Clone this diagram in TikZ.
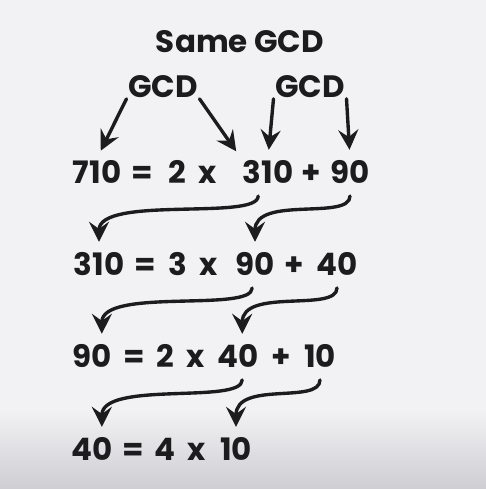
\documentclass[tikz,border=0pt]{standalone}
\usepackage{fontspec}
\setmainfont{Poppins}
\usetikzlibrary{arrows.meta}
\tikzset{>={Stealth[length=5mm,width=5mm,inset=1.8mm]}}
\definecolor{paper}{RGB}{242,242,244}
\definecolor{shadow}{RGB}{206,206,211}
\definecolor{ink}{RGB}{28,28,30}

\begin{document}
\begin{tikzpicture}[x=0.025cm,y=-0.025cm,
    txt/.style={anchor=base,inner sep=1pt,text=ink,font=\bfseries\fontsize{22}{26}\selectfont},
    arr/.style={->,draw=ink,line width=2.4pt,line cap=round}]
    %paper
    \useasboundingbox (0,0) rectangle (486,489);
    \fill[paper] (0,0) rectangle (486,489);
    \shade[top color=paper,bottom color=shadow] (0,410) rectangle (486,489);
    %labels
    \node[txt] (same) at (240,52) {Same GCD};
    \node[txt] (g1) at (163,97) {GCD};
    \node[txt] (g2) at (310,97) {GCD};
    %first line
    \node[txt] (a1) at (97,183) {710};
    \node[txt] (a2) at (142,183) {=};
    \node[txt] (a3) at (177,183) {2};
    \node[txt] (a4) at (208,183) {x};
    \node[txt] (a5) at (268,183) {310};
    \node[txt] (a6) at (311,183) {+};
    \node[txt] (a7) at (350,183) {90};
    %second line
    \node[txt] (b1) at (99,275) {310};
    \node[txt] (b2) at (145,275) {=};
    \node[txt] (b3) at (178,275) {3};
    \node[txt] (b4) at (209,275) {x};
    \node[txt] (b5) at (255,275) {90};
    \node[txt] (b6) at (294,275) {+};
    \node[txt] (b7) at (337,275) {40};
    %third line
    \node[txt] (c1) at (92,367) {90};
    \node[txt] (c2) at (134,367) {=};
    \node[txt] (c3) at (165,367) {2};
    \node[txt] (c4) at (196,367) {x};
    \node[txt] (c5) at (238,367) {40};
    \node[txt] (c6) at (281,367) {+};
    \node[txt] (c7) at (320,367) {10};
    %fourth line
    \node[txt] (d1) at (92,460) {40};
    \node[txt] (d2) at (133,460) {=};
    \node[txt] (d3) at (165,460) {4};
    \node[txt] (d4) at (197,460) {x};
    \node[txt] (d5) at (236,460) {10};
    %gcd arrows
    \draw[arr,shorten >=6pt] (g1.south west) -- (a1.north);
    \draw[arr,shorten >=6pt] (g1.south east) -- (a5.north west);
    \draw[arr,shorten >=6pt] (g2.south west) -- (a5.north);
    \draw[arr,shorten >=6pt] (g2.south east) -- (a7.north);
    %carry arrows
    \draw[arr,shorten <=8pt,shorten >=6pt] ([xshift=-7pt]a5.south) .. controls +(0,36) and +(0,-55) .. (b1.north);
    \draw[arr,shorten <=8pt,shorten >=6pt] (a7.south) .. controls +(0,36) and +(0,-55) .. (b5.north);
    \draw[arr,shorten <=8pt,shorten >=6pt] ([xshift=-2pt]b5.south) .. controls +(0,36) and +(0,-55) .. ([xshift=7pt]c1.north);
    \draw[arr,shorten <=8pt,shorten >=6pt] (b7.south) .. controls +(0,36) and +(0,-55) .. ([xshift=3pt]c5.north);
    \draw[arr,shorten <=8pt,shorten >=6pt] ([xshift=3pt]c5.south) .. controls +(0,36) and +(0,-55) .. ([xshift=7pt]d1.north);
    \draw[arr,shorten <=8pt,shorten >=6pt] (c7.south) .. controls +(0,36) and +(0,-55) .. (d5.north);
\end{tikzpicture}
\end{document}
